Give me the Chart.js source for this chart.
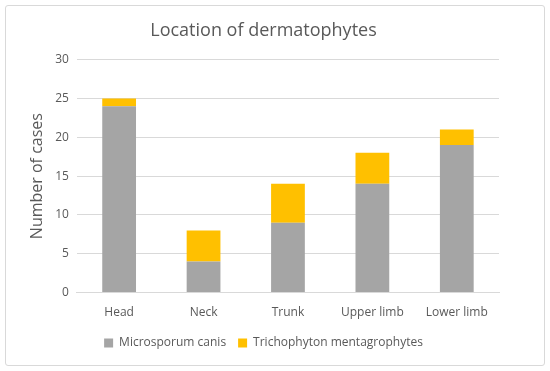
<!DOCTYPE html>
<html>
<head>
<meta charset="utf-8">
<script src="https://cdn.jsdelivr.net/npm/chart.js@4"></script>
<style>
  html, body { margin: 0; padding: 0; background: #fff; }
  .frame {
    position: absolute; left: 5px; top: 5px;
    width: 538px; height: 359px;
    border: 1px solid #d9d9d9; border-radius: 3px;
  }
  canvas { display: block; }
</style>
</head>
<body>
<div class="frame"><canvas id="chart" width="538" height="359"></canvas></div>
<script>
// Chart data
const sites = ['Head', 'Neck', 'Trunk', 'Upper limb', 'Lower limb'];
const microsporumCanis = [24, 4, 9, 14, 19];
const trichophytonMentagrophytes = [1, 4, 5, 4, 2];
const yTicks = [0, 5, 10, 15, 20, 25, 30];

const textColor = '#595959';
const fontFamily = "'Open Sans', 'Liberation Sans', sans-serif";

new Chart(document.getElementById('chart').getContext('2d'), {
    type: 'bar',
    data: {
        labels: sites,
        datasets: [
            {
                label: 'Microsporum canis',
                data: microsporumCanis,
                backgroundColor: '#a5a5a5'
            },
            {
                label: 'Trichophyton mentagrophytes',
                data: trichophytonMentagrophytes,
                backgroundColor: '#ffc000'
            }
        ]
    },
    options: {
        responsive: false,
        animation: false,
        barPercentage: 0.4,
        categoryPercentage: 1.0,
        layout: { padding: { left: 22, right: 45, top: 6, bottom: 6 } },
        plugins: {
            title: {
                display: true,
                text: 'Location of dermatophytes',
                color: textColor,
                font: { family: fontFamily, size: 18, weight: 'normal' },
                padding: { top: 8, bottom: 18 }
            },
            legend: {
                position: 'bottom',
                labels: {
                    color: textColor,
                    font: { family: fontFamily, size: 12 },
                    boxWidth: 9,
                    boxHeight: 9,
                    padding: 12
                }
            },
            tooltip: { enabled: false }
        },
        scales: {
            x: {
                stacked: true,
                grid: { display: false },
                border: { color: '#d9d9d9' },
                ticks: { color: textColor, font: { family: fontFamily, size: 12 }, padding: 5 }
            },
            y: {
                stacked: true,
                min: 0,
                max: 30,
                afterBuildTicks: axis => { axis.ticks = yTicks.map(v => ({ value: v })); },
                grid: { color: '#d9d9d9', drawTicks: false },
                border: { display: false },
                ticks: { color: textColor, font: { family: fontFamily, size: 12 }, padding: 8 },
                title: {
                    display: true,
                    text: 'Number of cases',
                    color: textColor,
                    font: { family: fontFamily, size: 16 },
                    padding: 0
                }
            }
        }
    }
});
</script>
</body>
</html>
